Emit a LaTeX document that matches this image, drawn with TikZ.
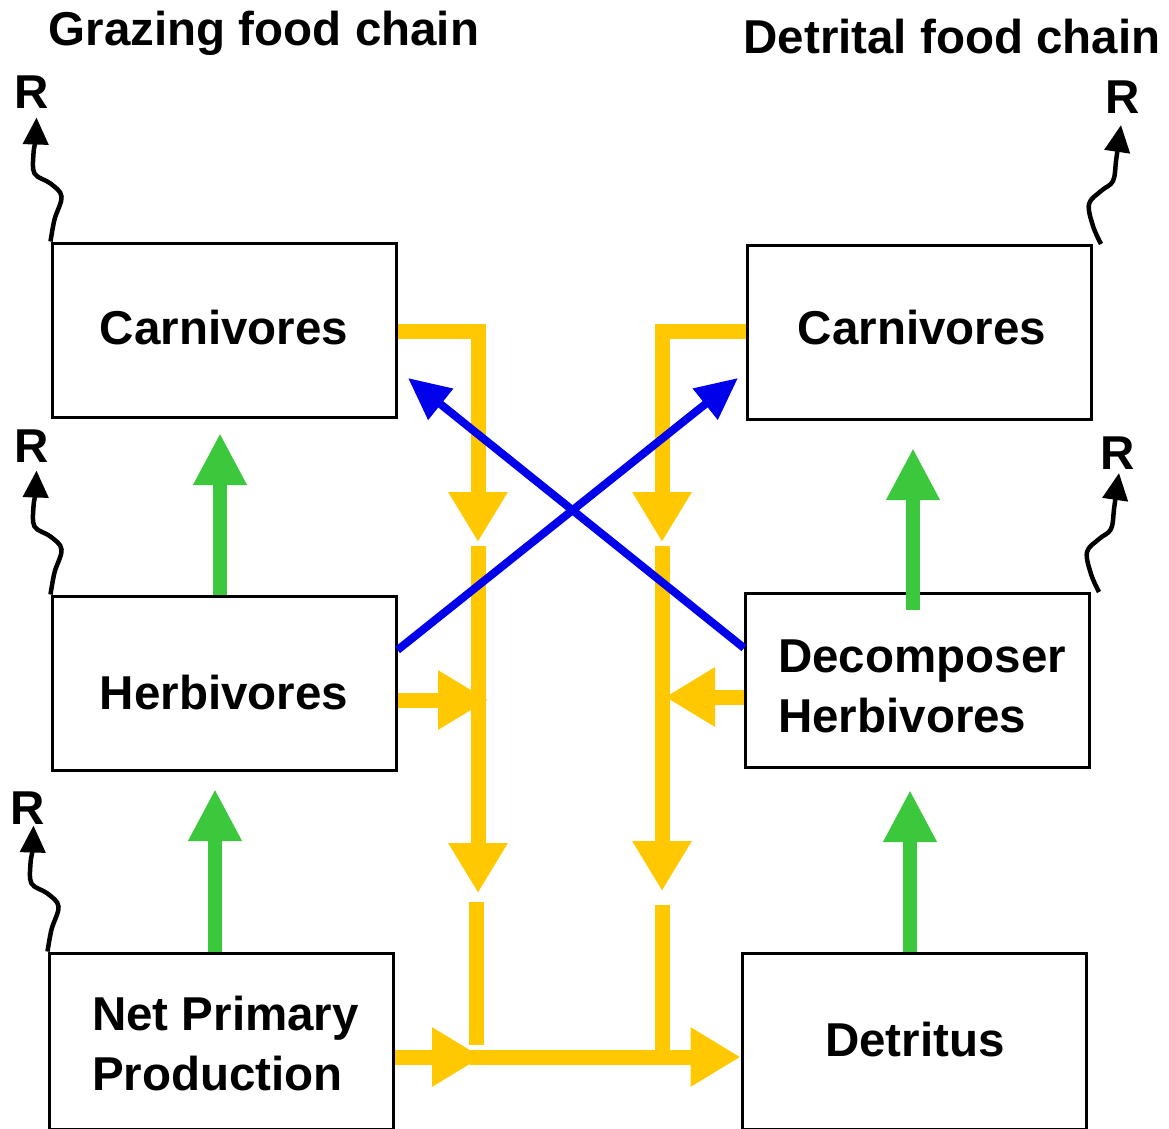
\documentclass[tikz,border=0pt]{standalone}
\usepackage{fontspec}
\setmainfont{Liberation Sans}
\usetikzlibrary{arrows.meta}
\definecolor{yel}{RGB}{255,200,0}
\definecolor{grn}{RGB}{60,200,60}
\definecolor{blu}{RGB}{0,0,235}
\tikzset{
  box/.style={draw=black, line width=3pt, minimum width=344pt, minimum height=174pt, inner sep=0pt},
  lbl/.style={font=\bfseries\fontsize{47.5}{60}\selectfont, inner sep=0pt},
  yarrow/.style={draw=yel, line width=15pt, -{Triangle[length=50pt,width=56pt]}},
  yline/.style={draw=yel, line width=15pt},
  garrow/.style={draw=grn, line width=14pt, -{Triangle[length=52pt,width=50pt]}},
  barrow/.style={draw=blu, line width=8pt, -{Triangle[length=42pt,width=38pt]}},
  resp/.style={draw=black, line width=4.5pt, -{Triangle[length=27pt,width=25pt]}},
}
\begin{document}
\begin{tikzpicture}[x=1pt,y=-1pt]
\useasboundingbox (0,0) rectangle (1169,1128);
% boxes
\node[box] (lc) at (224,330) {};
\node[box] (lh) at (224,683) {};
\node[box, minimum height=176pt] (np) at (221,1041) {};
\node[box] (rc) at (919.5,332.5) {};
\node[box] (rh) at (917.5,680.5) {};
\node[box, minimum height=176pt] (dt) at (914,1041) {};
% texts
\node[lbl] (t1) at (264,33) {Grazing food chain};
\node[lbl] (t2) at (952,37) {Detrital food chain};
\node[lbl] (lct) at (224,328) {Carnivores};
\node[lbl] (lht) at (224,693) {Herbivores};
\node[lbl, align=left, anchor=west] (npt) at (92,1044) {Net Primary\\Production};
\node[lbl] (rct) at (922,328) {Carnivores};
\node[lbl, align=left, anchor=west] (rht) at (778,686) {Decomposer\\Herbivores};
\node[lbl] (dtt) at (915,1040) {Detritus};
\node[lbl] (r1) at (32,92) {R};
\node[lbl] (r2) at (32,446) {R};
\node[lbl] (r3) at (28,808) {R};
\node[lbl] (r4) at (1123,97) {R};
\node[lbl] (r5) at (1118,453) {R};
% respiration squiggles
\draw[resp, shift={(lc.north west)}] plot[smooth, tension=0.6] coordinates {(0,0) (4,-22) (11,-45) (0,-58) (-16,-68) (-17,-88) (-15,-102) (-14,-124)};
\draw[resp, shift={(lh.north west)}] plot[smooth, tension=0.6] coordinates {(0,0) (4,-22) (11,-45) (0,-58) (-16,-68) (-17,-88) (-15,-102) (-14,-124)};
\draw[resp, shift={(np.north west)}] plot[smooth, tension=0.6] coordinates {(0,0) (4,-22) (11,-45) (0,-58) (-16,-68) (-17,-88) (-15,-102) (-14,-126)};
\draw[resp, shift={(rc.north east)}] plot[smooth, tension=0.6] coordinates {(8,0) (0,-18) (-4,-40) (8,-53) (20,-63) (23,-83) (25,-98) (28,-119)};
\draw[resp, shift={(rh.north east)}] plot[smooth, tension=0.6] coordinates {(8,0) (0,-18) (-4,-40) (8,-53) (20,-63) (23,-83) (25,-98) (28,-119)};
% green arrows
\draw[garrow] (lh.north -| 220,0) -- (220,433);
\draw[garrow] (np.north -| 215,0) -- (215,789);
\draw[garrow] (913,610) -- (913,448);
\draw[garrow] (dt.north -| 910,0) -- (910,790);
% yellow arrows
\coordinate (lx) at (478,331);
\coordinate (rx) at (662,331);
\draw[yarrow] (lc.east |- lx) -- (lx) -- (478,542);
\draw[yarrow] (478,546) -- (478,893);
\draw[yline] (476,902) -- (476,1045);
\draw[yarrow] (lh.east |- 0,700) -- (488,700);
\draw[yarrow] (rc.west |- rx) -- (rx) -- (662,542);
\draw[yarrow] (662,546) -- (662,891);
\draw[yline] (662,905) -- (662,1050);
\draw[yarrow] (rh.west |- 0,697) -- (665,697);
\coordinate (bj) at (482,1057);
\draw[yarrow] (np.east |- bj) -- (bj);
\draw[yarrow] (470,1057) -- (dt.west |- bj);
% blue arrows
\draw[barrow] (lh.east |- 0,650) -- (738,378);
\draw[barrow] (rh.west |- 0,648) -- (408,378);
\end{tikzpicture}
\end{document}
